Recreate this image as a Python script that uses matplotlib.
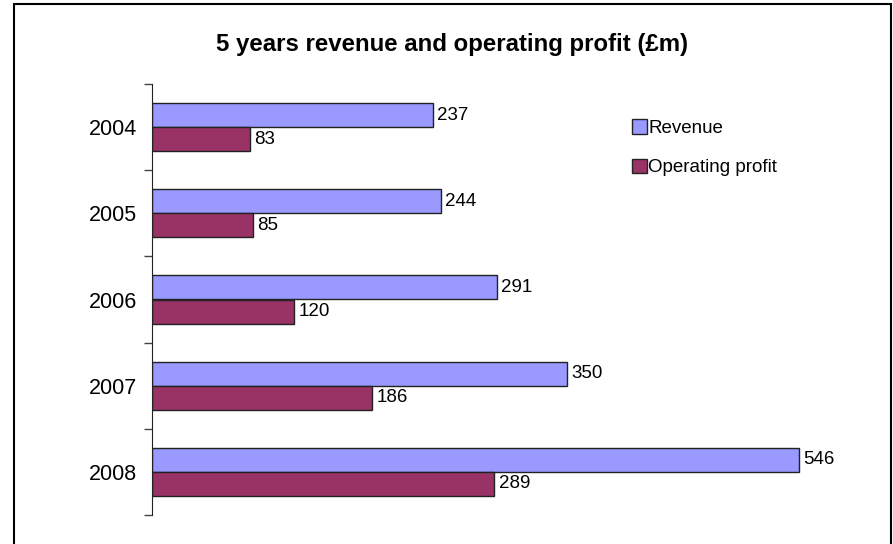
import numpy as np
import matplotlib.pyplot as plt
from matplotlib.patches import Rectangle

plt.rcParams['font.family'] = ['Liberation Sans', 'DejaVu Sans']

years = ["2004", "2005", "2006", "2007", "2008"]
revenue = [237, 244, 291, 350, 546]
profit = [83, 85, 120, 186, 289]

fig = plt.figure(figsize=(8.93, 5.44), dpi=100)
ax = fig.add_axes([152 / 893, 1 - 515 / 544, 711 / 893, 431 / 544])

y = np.arange(len(years))
h = 0.28
b1 = ax.barh(y - h / 2, revenue, height=h, color="#9999FF", edgecolor="#222222", linewidth=1, label="Revenue")
b2 = ax.barh(y + h / 2, profit, height=h, color="#993366", edgecolor="#222222", linewidth=1, label="Operating profit")

for bars, vals in ((b1, revenue), (b2, profit)):
    for bar, v in zip(bars, vals):
        ax.text(v + 3.5, bar.get_y() + bar.get_height() / 2, str(v),
                va="center", ha="left", fontsize=13.5)

ax.set_xlim(0, 600)
ax.set_ylim(4.5, -0.5)
ax.set_yticks(y)
ax.set_yticklabels(years, fontsize=15.5)
ax.set_yticks(np.arange(-0.5, 5, 1), minor=True)
ax.tick_params(axis="y", which="major", length=0, pad=11)
ax.tick_params(axis="y", which="minor", length=6, width=1, color="#444444")
ax.set_xticks([])
for s in ("top", "right", "bottom"):
    ax.spines[s].set_visible(False)
ax.spines["left"].set_color("#222222")

fig.text(452.5 / 893, 1 - 44 / 544, "5 years revenue and operating profit (£m)",
         ha="center", va="center", fontsize=17.3, fontweight="bold")

fig.legend(handles=[b1, b2], loc="upper left", bbox_to_anchor=(624 / 893, 1 - 112 / 544),
           frameon=False, fontsize=13.5, handlelength=0.8, handleheight=0.8,
           handletextpad=0.08, labelspacing=1.15, borderaxespad=0)

fig.patches.append(Rectangle((14 / 893, -0.05), 877 / 893, 1.05 - 4 / 544, transform=fig.transFigure,
                             fill=False, edgecolor="black", linewidth=1.5))

fig.savefig("out.png", dpi=100)
